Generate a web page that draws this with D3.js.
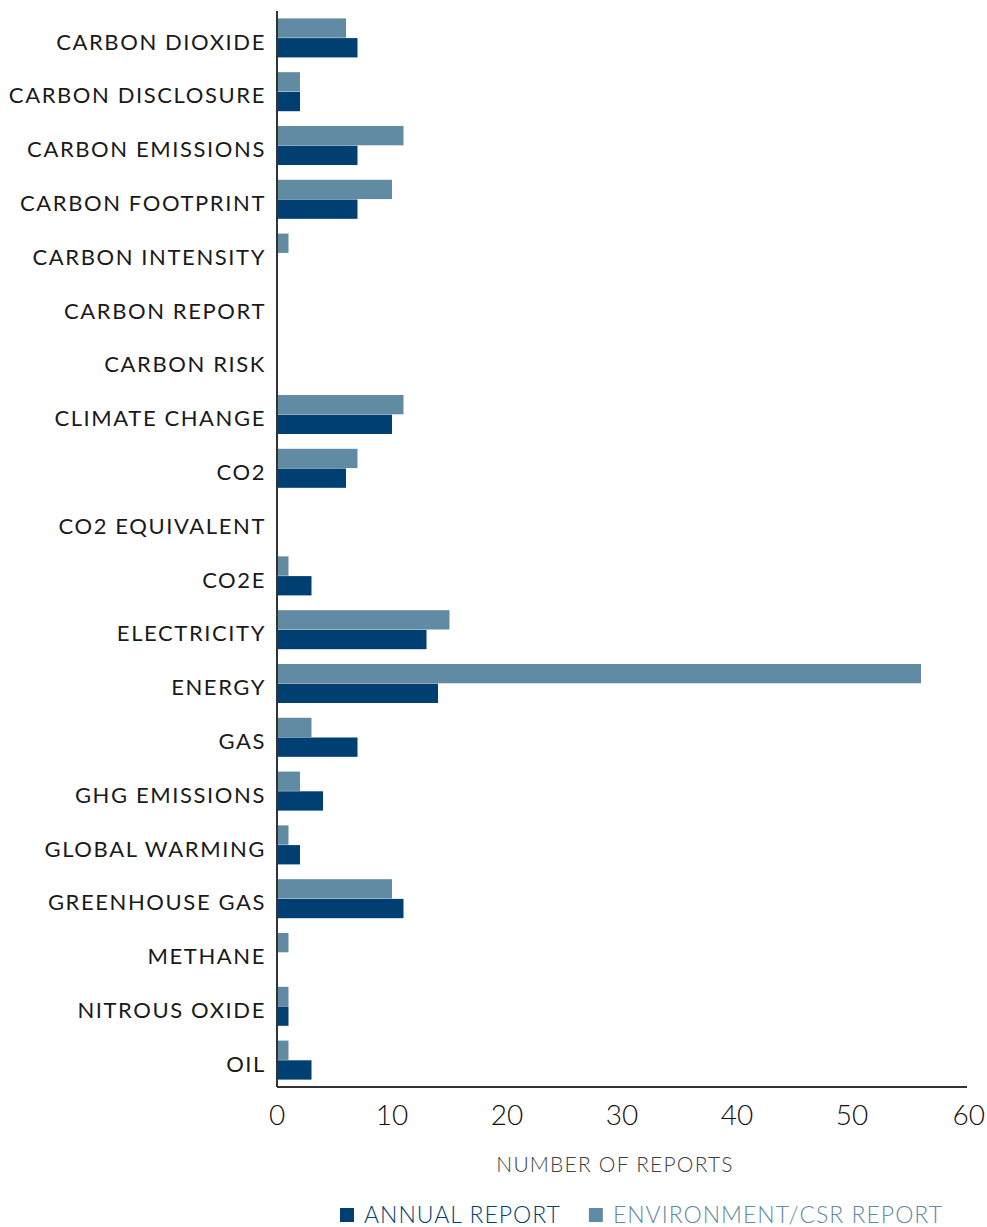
<!DOCTYPE html>
<html>
<head>
<meta charset="utf-8">
<script src="https://cdn.jsdelivr.net/npm/d3@7"></script>
<style>
  body { margin: 0; background: #fff; }
  text { font-family: 'Lato', 'Open Sans', sans-serif; }
</style>
</head>
<body>
<div id="chart"></div>
<script>
// keywords searched for, top to bottom
const categories = [
  'CARBON DIOXIDE', 'CARBON DISCLOSURE', 'CARBON EMISSIONS', 'CARBON FOOTPRINT',
  'CARBON INTENSITY', 'CARBON REPORT', 'CARBON RISK', 'CLIMATE CHANGE', 'CO2',
  'CO2 EQUIVALENT', 'CO2E', 'ELECTRICITY', 'ENERGY', 'GAS', 'GHG EMISSIONS',
  'GLOBAL WARMING', 'GREENHOUSE GAS', 'METHANE', 'NITROUS OXIDE', 'OIL'
]
const annualReport = [7, 2, 7, 7, 0, 0, 0, 10, 6, 0, 3, 13, 14, 7, 4, 2, 11, 0, 1, 3]
const csrReport = [6, 2, 11, 10, 1, 0, 0, 11, 7, 0, 1, 15, 56, 3, 2, 1, 10, 1, 1, 1]
const xTicks = [0, 10, 20, 30, 40, 50, 60]
const seriesNames = ['ENVIRONMENT/CSR REPORT', 'ANNUAL REPORT']
const legendNames = ['ANNUAL REPORT', 'ENVIRONMENT/CSR REPORT']

const width = 987
const height = 1227
const margin = { top: 11, right: 20, bottom: 140, left: 277 }
const colors = { 'ANNUAL REPORT': '#003f72', 'ENVIRONMENT/CSR REPORT': '#608ba2' }

const svg = d3.select('#chart').append('svg')
  .attr('width', width)
  .attr('height', height)

const x = d3.scaleLinear().domain([0, 60]).range([margin.left, 967])
const y = d3.scaleBand().domain(categories)
  .range([margin.top, height - margin.bottom])
  .paddingInner(0.26).paddingOuter(0.13)
const ySub = d3.scaleBand().domain(seriesNames).range([0, y.bandwidth()]).padding(0.02)

const rows = categories.map((c, i) => ({
  cat: c,
  vals: [
    { key: 'ENVIRONMENT/CSR REPORT', v: csrReport[i] },
    { key: 'ANNUAL REPORT', v: annualReport[i] }
  ]
}))

const group = svg.append('g').selectAll('g')
  .data(rows)
  .join('g')
  .attr('transform', d => `translate(0,${y(d.cat)})`)

group.selectAll('rect')
  .data(d => d.vals.filter(e => e.v > 0))
  .join('rect')
  .attr('x', x(0))
  .attr('y', d => ySub(d.key))
  .attr('width', d => x(d.v) - x(0))
  .attr('height', ySub.bandwidth())
  .attr('fill', d => colors[d.key])

// category labels
svg.append('g').selectAll('text')
  .data(categories)
  .join('text')
  .attr('x', margin.left - 11)
  .attr('y', d => y(d) + y.bandwidth() / 2 + 4)
  .attr('dy', '0.35em')
  .attr('text-anchor', 'end')
  .attr('font-size', 22)
  .attr('letter-spacing', 1.6)
  .attr('fill', '#1a1a1a')
  .text(d => d)

// axes lines
const axisBottom = height - margin.bottom
svg.append('line')
  .attr('x1', x(0)).attr('x2', x(60))
  .attr('y1', axisBottom).attr('y2', axisBottom)
  .attr('stroke', '#333').attr('stroke-width', 2)
svg.append('line')
  .attr('x1', x(0)).attr('x2', x(0))
  .attr('y1', margin.top).attr('y2', axisBottom)
  .attr('stroke', '#333').attr('stroke-width', 2)

// tick labels
svg.append('g').selectAll('text')
  .data(xTicks)
  .join('text')
  .attr('x', d => x(d))
  .attr('y', 1125)
  .attr('text-anchor', d => d === 60 ? 'end' : 'middle')
  .attr('dx', d => d === 60 ? 18 : 0)
  .attr('font-size', 28)
  .attr('font-weight', 300)
  .attr('fill', '#111')
  .text(d => d)

svg.append('text')
  .attr('x', (x(0) + x(60)) / 2 - 7)
  .attr('y', 1172)
  .attr('text-anchor', 'middle')
  .attr('font-size', 21)
  .attr('font-weight', 300)
  .attr('letter-spacing', 1.2)
  .attr('fill', '#404040')
  .text('NUMBER OF REPORTS')

// legend
const legend = svg.append('g').attr('transform', 'translate(340,1215)')
let lx = 0
legendNames.forEach(name => {
  const item = legend.append('g').attr('transform', `translate(${lx},0)`)
  item.append('rect').attr('x', 0).attr('y', -7).attr('width', 14).attr('height', 14)
    .attr('fill', colors[name])
  const t = item.append('text').attr('x', 24).attr('dy', '0.35em')
    .attr('font-size', 23).attr('font-weight', 300).attr('letter-spacing', 1)
    .attr('fill', colors[name]).text(name)
  lx += 24 + t.node().getComputedTextLength() + 28
})
</script>
</body>
</html>
